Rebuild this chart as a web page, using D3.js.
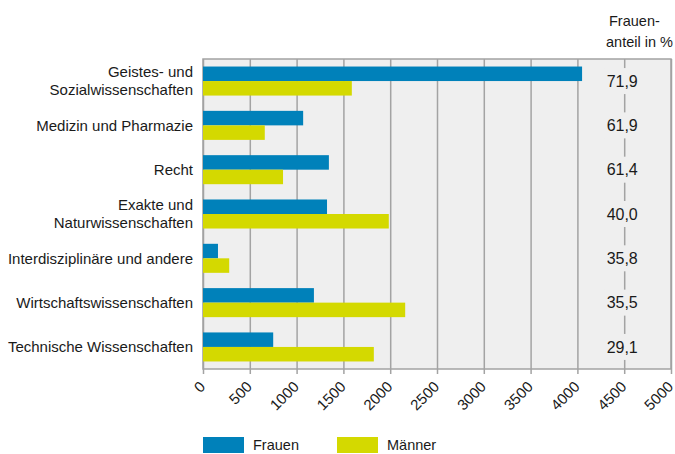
<!DOCTYPE html>
<html>
<head>
<meta charset="utf-8">
<script src="https://cdn.jsdelivr.net/npm/d3@7"></script>
<style>
  body { margin: 0; background: #fff; }
  svg text { font-family: "Liberation Sans", Arial, sans-serif; fill: #1a1a1a; }
</style>
</head>
<body>
<div id="chart"></div>
<script>
// Data
const categories = [
  ['Geistes- und', 'Sozialwissenschaften'],
  ['Medizin und Pharmazie'],
  ['Recht'],
  ['Exakte und', 'Naturwissenschaften'],
  ['Interdisziplinäre und andere'],
  ['Wirtschaftswissenschaften'],
  ['Technische Wissenschaften']
];
const frauen = [4050, 1070, 1345, 1325, 160, 1185, 750];
const maenner = [1590, 660, 855, 1985, 280, 2160, 1825];
const frauenAnteil = ['71,9', '61,9', '61,4', '40,0', '35,8', '35,5', '29,1'];
const ticks = [0, 500, 1000, 1500, 2000, 2500, 3000, 3500, 4000, 4500, 5000];
const seriesNames = ['Frauen', 'Männer'];
const colors = ['#0081ba', '#d4d900'];

const width = 675, height = 454;
const margin = { top: 59, right: 4, bottom: 85, left: 203 };

const svg = d3.select('#chart')
  .append('svg')
  .attr('width', width)
  .attr('height', height);

const x = d3.scaleLinear().domain([0, 5000]).range([margin.left, width - margin.right]);
const y = d3.scaleBand()
  .domain(d3.range(categories.length))
  .range([margin.top, height - margin.bottom])
  .paddingInner(0.345)
  .paddingOuter(0.17);
const sub = d3.scaleBand().domain([0, 1]).range([0, y.bandwidth()]);

const plotTop = margin.top, plotBottom = height - margin.bottom;

// plot background
svg.append('rect')
  .attr('x', x(0)).attr('y', plotTop)
  .attr('width', x(5000) - x(0)).attr('height', plotBottom - plotTop)
  .attr('fill', '#efefef');

// grid lines + axis
const xAxis = d3.axisBottom(x).tickValues(ticks).tickSize(plotBottom - plotTop + 5).tickFormat(d => d);
const ax = svg.append('g')
  .attr('transform', `translate(0,${plotTop})`)
  .call(xAxis);
ax.select('.domain').remove();
ax.selectAll('.tick line').attr('stroke', '#a3a3a3').attr('stroke-width', 1.5);
ax.selectAll('.tick text')
  .attr('font-size', 15)
  .attr('text-anchor', 'end')
  .attr('transform', `translate(-1,${plotBottom - plotTop + 15}) rotate(-45)`)
  .attr('y', 0).attr('dy', '0.35em').attr('x', 0);

// border
svg.append('rect')
  .attr('x', x(0)).attr('y', plotTop)
  .attr('width', x(5000) - x(0)).attr('height', plotBottom - plotTop)
  .attr('fill', 'none')
  .attr('stroke', '#a3a3a3')
  .attr('stroke-width', 1.5);

// bars
const groups = svg.append('g').selectAll('g')
  .data(categories.map((c, i) => [frauen[i], maenner[i]]))
  .enter().append('g')
  .attr('transform', (d, i) => `translate(0,${y(i)})`);

groups.selectAll('rect')
  .data(d => d)
  .enter().append('rect')
  .attr('x', x(0))
  .attr('y', (d, j) => sub(j))
  .attr('width', d => x(d) - x(0))
  .attr('height', sub.bandwidth())
  .attr('fill', (d, j) => colors[j]);

// category labels
const labels = svg.append('g').selectAll('text')
  .data(categories)
  .enter().append('text')
  .attr('x', x(0) - 10)
  .attr('y', (d, i) => y(i) + y.bandwidth() / 2)
  .attr('text-anchor', 'end')
  .attr('font-size', 15);
labels.each(function (d) {
  const t = d3.select(this);
  d.forEach((line, k) => {
    t.append('tspan')
      .attr('x', x(0) - 10)
      .attr('dy', k === 0 ? (d.length === 1 ? '0.35em' : '-0.3em') : '1.25em')
      .text(line);
  });
});

// Frauenanteil column
const pctX = x(4500) - 2;
svg.append('g').selectAll('rect')
  .data(frauenAnteil)
  .enter().append('rect')
  .attr('x', pctX - 18)
  .attr('y', (d, i) => y(i) + y.bandwidth() / 2 - 13)
  .attr('width', 36)
  .attr('height', 26)
  .attr('fill', '#efefef');

svg.append('g').selectAll('text')
  .data(frauenAnteil)
  .enter().append('text')
  .attr('x', pctX)
  .attr('y', (d, i) => y(i) + y.bandwidth() / 2)
  .attr('dy', '0.35em')
  .attr('text-anchor', 'middle')
  .attr('font-size', 16)
  .text(d => d);

const head = svg.append('text').attr('font-size', 14.5);
head.append('tspan').attr('x', 609).attr('y', 26).text('Frauen-');
head.append('tspan').attr('x', 606).attr('y', 47).text('anteil in %');

// legend
const legend = svg.append('g').attr('transform', `translate(${x(0)},437)`);
const item = legend.selectAll('g')
  .data(seriesNames)
  .enter().append('g')
  .attr('transform', (d, i) => `translate(${i * 134},0)`);
item.append('rect')
  .attr('width', 41).attr('height', 16)
  .attr('fill', (d, i) => colors[i]);
item.append('text')
  .attr('x', 50).attr('y', 8).attr('dy', '0.35em')
  .attr('font-size', 14.5)
  .text(d => d);
</script>
</body>
</html>
